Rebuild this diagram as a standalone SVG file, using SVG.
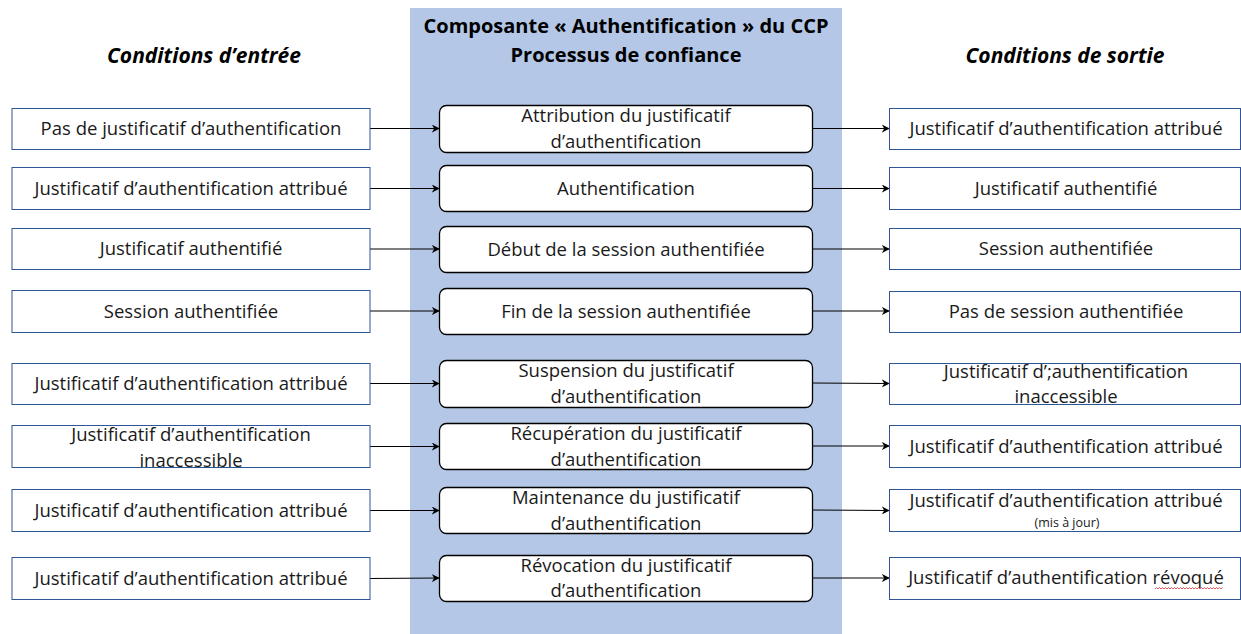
<svg xmlns="http://www.w3.org/2000/svg" width="1241" height="634" viewBox="0 0 1241 634">
  <style>
    text { font-variant-ligatures: none; }
    .cond { fill: #ffffff; stroke: #2f5597; stroke-width: 1; }
    .proc { fill: #ffffff; stroke: #000000; stroke-width: 1.3; }
    .txt { font-family: "Open Sans", "Liberation Sans", sans-serif; font-size: 18.5px; fill: #1a1a1a; text-anchor: middle; }
    .small { font-family: "Open Sans", "Liberation Sans", sans-serif; font-size: 12.5px; fill: #1a1a1a; text-anchor: middle; }
    .head { font-family: "Open Sans", "Liberation Sans", sans-serif; font-size: 20px; font-weight: bold; fill: #000000; text-anchor: middle; }
    .col { font-family: "Open Sans", "Liberation Sans", sans-serif; font-size: 21px; font-weight: bold; font-style: italic; fill: #000000; text-anchor: middle; }
    .link { stroke: #000000; stroke-width: 1.2; fill: none; marker-end: url(#arrow); }
  </style>
  <defs>
    <marker id="arrow" viewBox="0 0 10 10" refX="9" refY="5" markerWidth="8" markerHeight="8" markerUnits="userSpaceOnUse" orient="auto">
      <path d="M0,0 L10,5 L0,10 L3,5 Z" fill="#000000"/>
    </marker>
  </defs>

  <rect width="1241" height="634" fill="#ffffff"/>

  <!-- central process panel -->
  <g id="panel">
    <rect x="410" y="8" width="432" height="626" fill="#b4c7e7"/>
    <text class="head" x="626" y="33">Composante « Authentification » du CCP</text>
    <text class="head" x="626" y="62">Processus de confiance</text>
  </g>

  <!-- column headings -->
  <text class="col" x="204" y="63">Conditions d’entrée</text>
  <text class="col" x="1065" y="63">Conditions de sortie</text>

  <!-- connectors -->
  <g id="connectors">
    <line class="link" x1="370" y1="128.5" x2="439" y2="128.5"/>
    <line class="link" x1="370" y1="188.5" x2="439" y2="188.5"/>
    <line class="link" x1="370" y1="249" x2="439" y2="249"/>
    <line class="link" x1="370" y1="311" x2="439" y2="311"/>
    <line class="link" x1="370" y1="383.5" x2="439" y2="383.5"/>
    <line class="link" x1="370" y1="446.5" x2="439" y2="446.5"/>
    <line class="link" x1="370" y1="510.5" x2="439" y2="510.5"/>
    <line class="link" x1="370" y1="578.5" x2="439" y2="578"/>

    <line class="link" x1="812" y1="128.5" x2="889" y2="128.5"/>
    <line class="link" x1="812" y1="188.5" x2="889" y2="188.5"/>
    <line class="link" x1="812" y1="249" x2="889" y2="249"/>
    <line class="link" x1="812" y1="311" x2="889" y2="311"/>
    <line class="link" x1="812" y1="383" x2="889" y2="383.5"/>
    <line class="link" x1="812" y1="446" x2="889" y2="446"/>
    <line class="link" x1="812" y1="510" x2="889" y2="510.5"/>
    <line class="link" x1="812" y1="578" x2="889" y2="578"/>
  </g>

  <!-- input conditions -->
  <g id="in1"><rect class="cond" x="12" y="108.5" width="358" height="41"/><text class="txt" x="191" y="135">Pas de justificatif  d’authentification</text></g>
  <g id="in2"><rect class="cond" x="12" y="167.5" width="358" height="42"/><text class="txt" x="191" y="195">Justificatif d’authentification attribué</text></g>
  <g id="in3"><rect class="cond" x="12" y="228.5" width="358" height="41"/><text class="txt" x="191" y="255">Justificatif authentifié</text></g>
  <g id="in4"><rect class="cond" x="12" y="290.5" width="358" height="42"/><text class="txt" x="191" y="318">Session authentifiée</text></g>
  <g id="in5"><rect class="cond" x="12" y="363.5" width="358" height="41"/><text class="txt" x="191" y="390">Justificatif d’authentification attribué</text></g>
  <g id="in6"><text class="txt" x="191" y="441">Justificatif d’authentification</text><text class="txt" x="191" y="467">inaccessible</text><rect class="cond" x="12" y="425.5" width="358" height="42" style="fill:none"/></g>
  <g id="in7"><rect class="cond" x="12" y="489.5" width="358" height="42"/><text class="txt" x="191" y="517">Justificatif d’authentification attribué</text></g>
  <g id="in8"><rect class="cond" x="12" y="557.5" width="358" height="42"/><text class="txt" x="191" y="585">Justificatif d’authentification attribué</text></g>

  <!-- trust process steps -->
  <g id="p1"><rect class="proc" x="439.5" y="105.5" width="373" height="47" rx="7"/><text class="txt" x="626" y="122">Attribution du justificatif</text><text class="txt" x="626" y="148">d’authentification</text></g>
  <g id="p2"><rect class="proc" x="439.5" y="165.5" width="373" height="46" rx="7"/><text class="txt" x="626" y="195">Authentification</text></g>
  <g id="p3"><rect class="proc" x="439.5" y="226.5" width="373" height="46" rx="7"/><text class="txt" x="626" y="256">Début de la session authentifiée</text></g>
  <g id="p4"><rect class="proc" x="439.5" y="288.5" width="373" height="46" rx="7"/><text class="txt" x="626" y="318">Fin de la session authentifiée</text></g>
  <g id="p5"><rect class="proc" x="439.5" y="360.5" width="373" height="47" rx="7"/><text class="txt" x="626" y="377">Suspension du justificatif</text><text class="txt" x="626" y="403">d’authentification</text></g>
  <g id="p6"><rect class="proc" x="439.5" y="423.5" width="373" height="46" rx="7"/><text class="txt" x="626" y="440">Récupération du justificatif</text><text class="txt" x="626" y="466">d’authentification</text></g>
  <g id="p7"><rect class="proc" x="439.5" y="487.5" width="373" height="46" rx="7"/><text class="txt" x="626" y="504">Maintenance du justificatif</text><text class="txt" x="626" y="530">d’authentification</text></g>
  <g id="p8"><rect class="proc" x="439.5" y="555.5" width="373" height="46" rx="7"/><text class="txt" x="626" y="572">Révocation du justificatif</text><text class="txt" x="626" y="597">d’authentification</text></g>

  <!-- output conditions -->
  <g id="out1"><rect class="cond" x="889.5" y="108.5" width="351" height="41"/><text class="txt" x="1066" y="135">Justificatif d’authentification attribué</text></g>
  <g id="out2"><rect class="cond" x="889.5" y="167.5" width="351" height="42"/><text class="txt" x="1066" y="195">Justificatif authentifié</text></g>
  <g id="out3"><rect class="cond" x="889.5" y="228.5" width="351" height="41"/><text class="txt" x="1066" y="255">Session authentifiée</text></g>
  <g id="out4"><rect class="cond" x="889.5" y="291.5" width="351" height="41"/><text class="txt" x="1066" y="318">Pas de session authentifiée</text></g>
  <g id="out5"><text class="txt" x="1066" y="378">Justificatif d’;authentification</text><text class="txt" x="1066" y="403">inaccessible</text><rect class="cond" x="889.5" y="363.5" width="351" height="41" style="fill:none"/></g>
  <g id="out6"><rect class="cond" x="889.5" y="425.5" width="351" height="42"/><text class="txt" x="1066" y="453">Justificatif d’authentification attribué</text></g>
  <g id="out7"><rect class="cond" x="889.5" y="489.5" width="351" height="42"/><text class="txt" x="1066" y="507">Justificatif d’authentification attribué</text><text class="small" x="1067" y="527">(mis à jour)</text></g>
  <g id="out8"><rect class="cond" x="889.5" y="557.5" width="351" height="42"/><text class="txt" x="1066" y="584">Justificatif d’authentification révoqué</text>
    <!-- spell-check squiggle under the last word -->
    <path d="M1155,589 l1.5,-1.5 l1.5,1.5 l1.5,-1.5 l1.5,1.5 l1.5,-1.5 l1.5,1.5 l1.5,-1.5 l1.5,1.5 l1.5,-1.5 l1.5,1.5 l1.5,-1.5 l1.5,1.5 l1.5,-1.5 l1.5,1.5 l1.5,-1.5 l1.5,1.5 l1.5,-1.5 l1.5,1.5 l1.5,-1.5 l1.5,1.5 l1.5,-1.5 l1.5,1.5 l1.5,-1.5 l1.5,1.5 l1.5,-1.5 l1.5,1.5 l1.5,-1.5 l1.5,1.5 l1.5,-1.5 l1.5,1.5 l1.5,-1.5 l1.5,1.5 l1.5,-1.5 l1.5,1.5 l1.5,-1.5 l1.5,1.5 l1.5,-1.5 l1.5,1.5 l1.5,-1.5 l1.5,1.5 l1.5,-1.5 l1.5,1.5 l1.5,-1.5 l1.5,1.5 l1.5,-1.5" fill="none" stroke="#e03030" stroke-width="0.8"/></g>
</svg>
